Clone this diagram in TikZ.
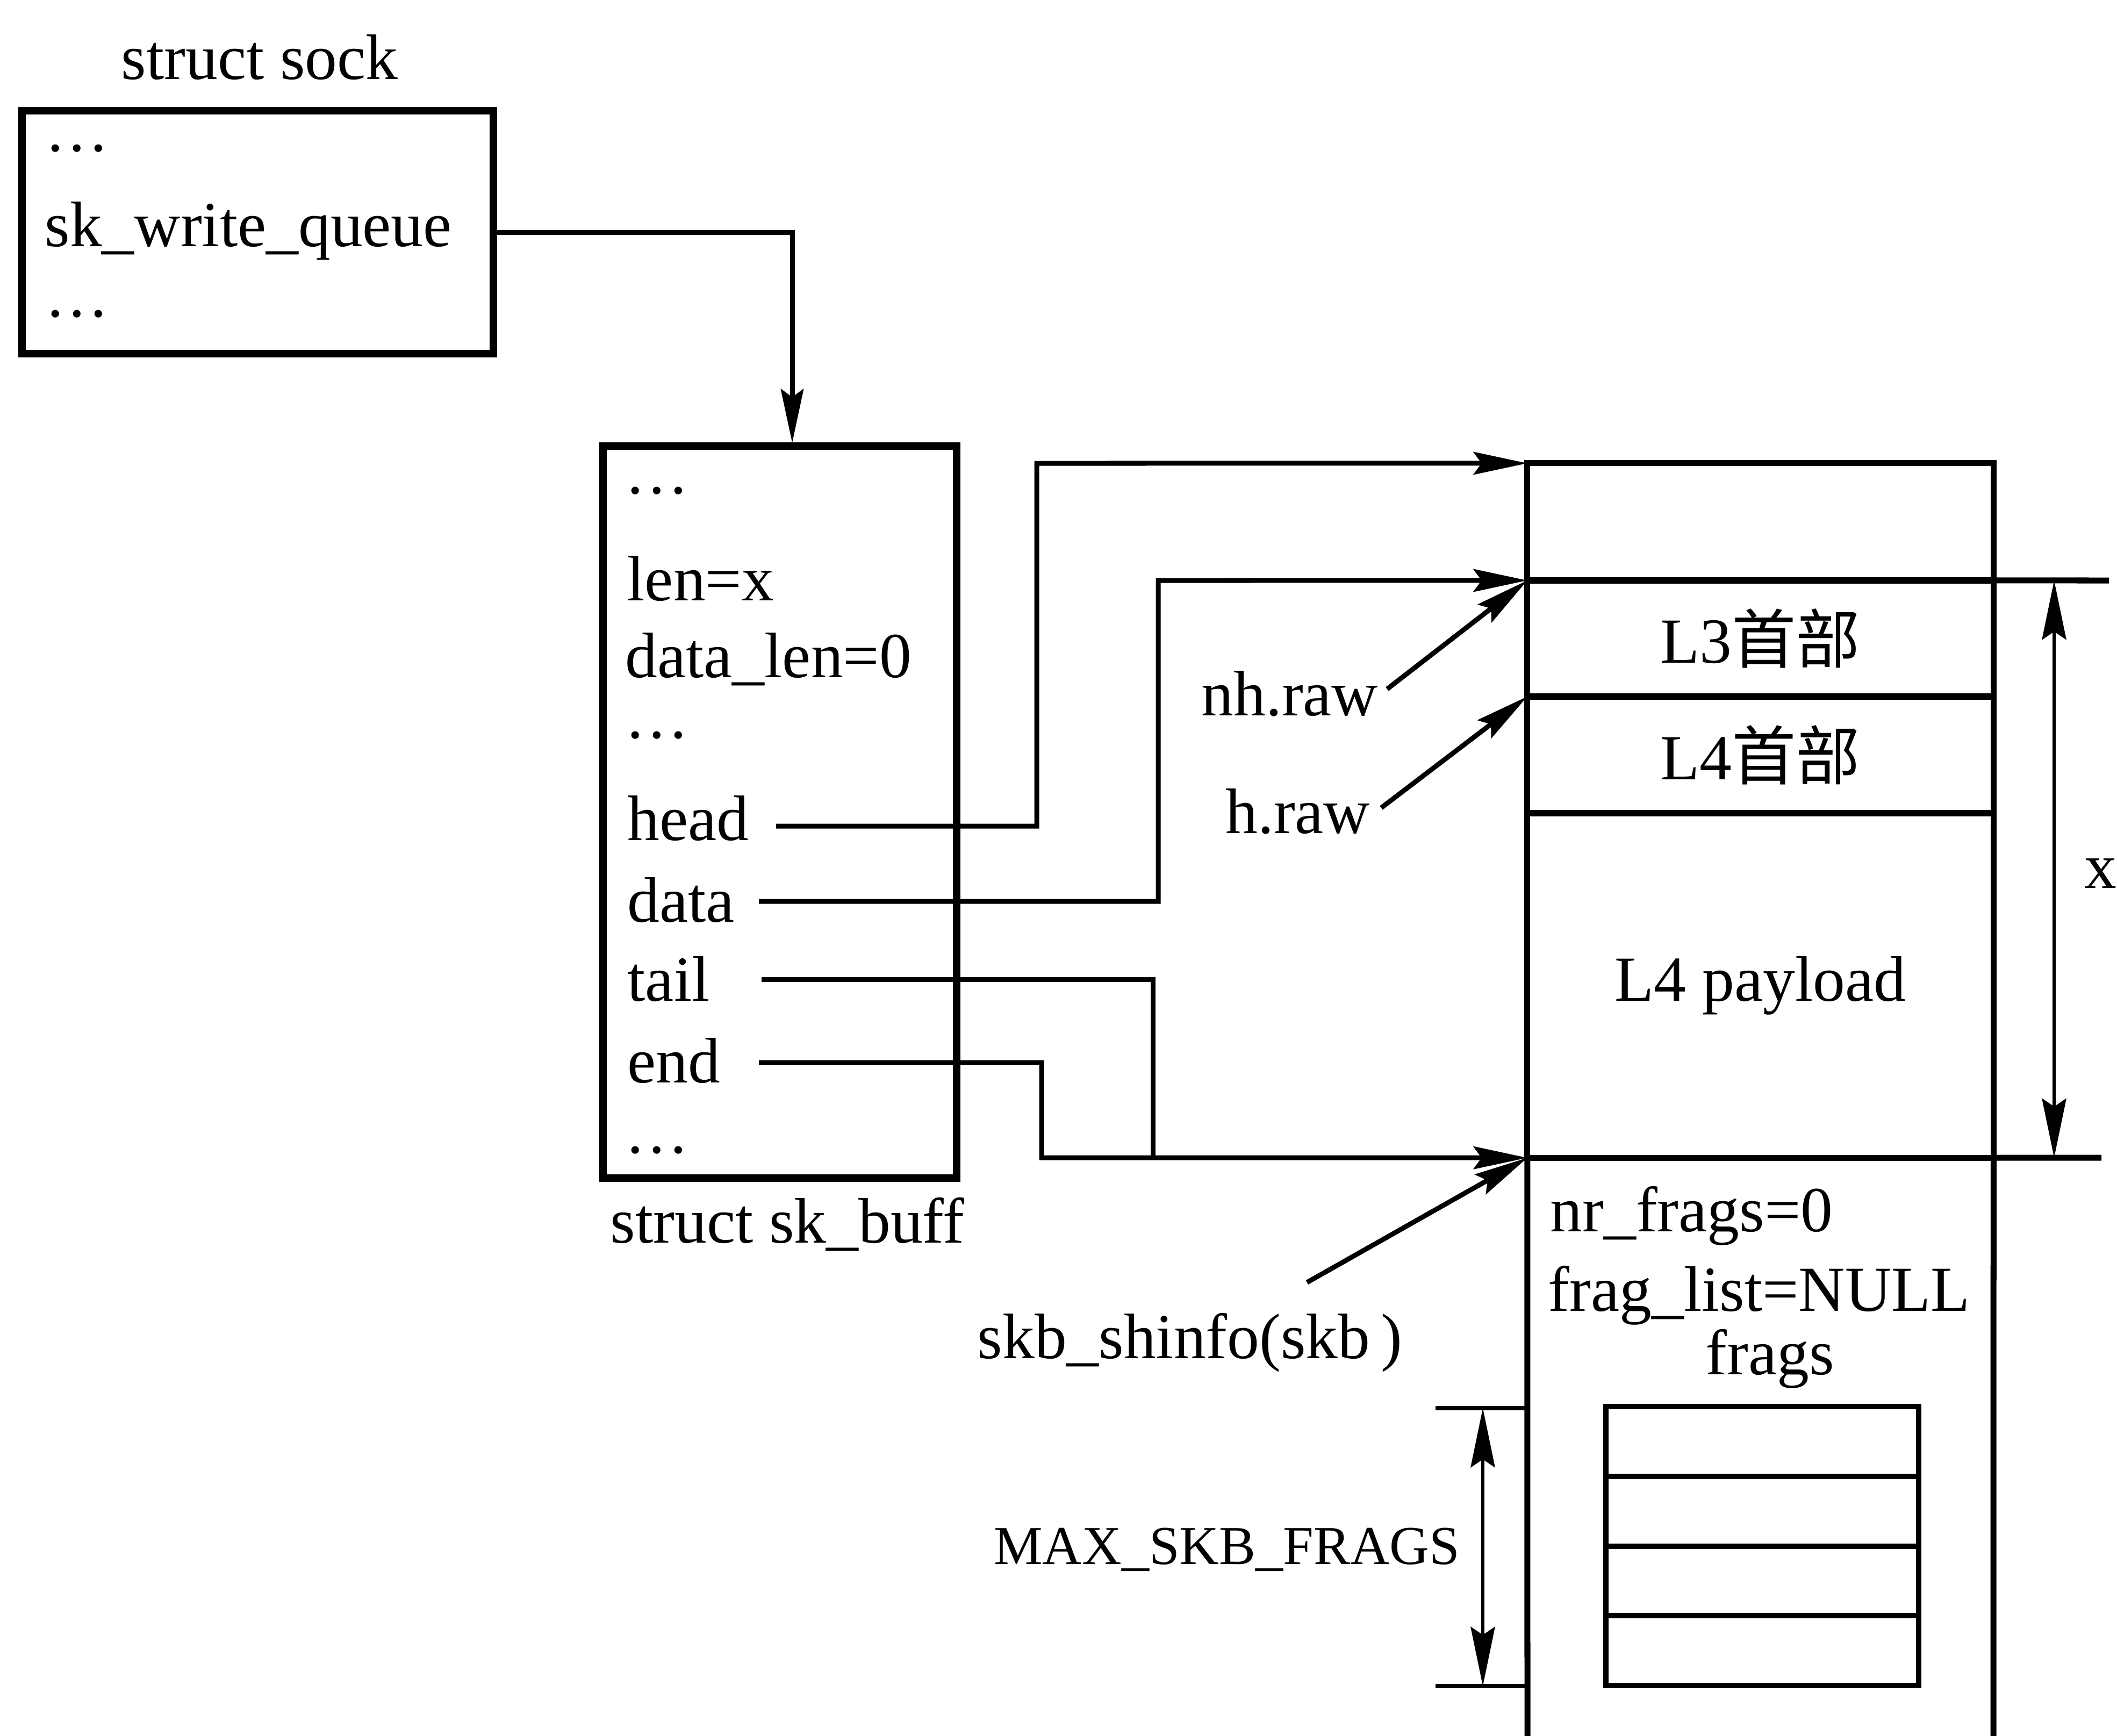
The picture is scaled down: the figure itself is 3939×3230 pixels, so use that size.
\documentclass[tikz,border=0pt]{standalone}
\usepackage{fontspec}
\setmainfont{Liberation Serif}
\newfontfamily\cjk{Noto Sans CJK SC}
\usetikzlibrary{arrows.meta}
\begin{document}
\begin{tikzpicture}[x=0.01cm,y=-0.01cm,
  txt/.style={font=\fontsize{34pt}{40pt}\selectfont, inner sep=0pt},
  smalltxt/.style={font=\fontsize{29pt}{34pt}\selectfont, inner sep=0pt},
  box/.style={draw, line width=0.14cm, inner sep=0pt, outer sep=0pt},
  cell/.style={draw, line width=0.11cm, inner sep=0pt, outer sep=0pt, minimum width=8.67cm, font=\fontsize{34pt}{40pt}\selectfont},
  fcell/.style={draw, line width=0.10cm, inner sep=0pt, outer sep=0pt, minimum width=5.82cm, minimum height=1.2975cm},
  blk/.style={line width=0.11cm},
  conn/.style={line width=0.09cm},
  arr/.style={line width=0.09cm, -{Stealth[length=1cm,width=0.42cm,inset=0.15cm]}},
  dim/.style={line width=0.065cm, {Stealth[length=1.1cm,width=0.45cm,inset=0.15cm]}-{Stealth[length=1.1cm,width=0.45cm,inset=0.15cm]}}]
\useasboundingbox (0,0) rectangle (3939,3230);

% struct sock
\node[txt, anchor=base] (sockt) at (483,147) {struct sock};
\node[box, minimum width=8.77cm, minimum height=4.51cm] (sock) at (479.5,432) {};
\node[txt, anchor=base west] (sd1) at (83,281) {…};
\node[txt, anchor=base west] (swq) at (83,458) {sk\_write\_queue};
\node[txt, anchor=base west] (sd2) at (83,589) {…};

% struct sk_buff
\node[box, minimum width=6.58cm, minimum height=13.62cm] (skb) at (1451,1511) {};
\node[txt, anchor=base west] (kd1) at (1162,918) {…};
\node[txt, anchor=base west] (klen) at (1166,1117) {len=x};
\node[txt, anchor=base west] (kdl) at (1163,1260) {data\_len=0};
\node[txt, anchor=base west] (kd2) at (1162,1373) {…};
\node[txt, anchor=base west] (khead) at (1167,1563) {head};
\node[txt, anchor=base west] (kdata) at (1167,1715) {data};
\node[txt, anchor=base west] (ktail) at (1167,1862) {tail};
\node[txt, anchor=base west] (kend) at (1167,2014) {end};
\node[txt, anchor=base west] (kd3) at (1162,2145) {…};
\node[txt, anchor=base west] (skbt) at (1135,2312) {struct sk\_buff};

% data block
\node[cell, minimum height=2.18cm] (c0) at (3275.5,971) {};
\node[cell, minimum height=2.16cm] (l3) at (3275.5,1188) {L3{\cjk 首部}};
\node[cell, minimum height=2.17cm] (l4) at (3275.5,1404.5) {L4{\cjk 首部}};
\node[cell, minimum height=6.41cm] (pay) at (3275.5,1833.5) {L4 payload};
\draw[blk] (pay.south west) -- (2842,3230);
\draw[blk] (pay.south east) -- (3709,3230);
\draw[blk] (l3.north east) -- (3924,1080);
\draw[blk] (pay.south east) -- (3910,2154);
\draw[dim] (3822,1080) -- (3822,2154);
\node[txt, anchor=base] (xl) at (3908,1652) {x};

% shared info
\node[txt, anchor=base west] (nrf) at (2884,2291) {nr\_frags=0};
\node[txt, anchor=base west] (fl) at (2880,2439) {frag\_list=NULL};
\node[txt, anchor=base] (fr) at (3293,2557) {frags};
\node[fcell] (f1) at (3279,2681.9) {};
\node[fcell] (f2) at (3279,2811.6) {};
\node[fcell] (f3) at (3279,2941.4) {};
\node[fcell] (f4) at (3279,3071.1) {};
\draw[line width=0.08cm] (2671,2620) -- (2842,2620);
\draw[line width=0.08cm] (2671,3137) -- (2842,3137);
\draw[dim] (2759,2620) -- (2759,3137);
\node[smalltxt, anchor=base east] (maxl) at (2717,2910) {MAX\_SKB\_FRAGS};

% labels with pointers
\node[txt, anchor=base east] (nh) at (2565,1331) {nh.raw};
\node[txt, anchor=base east] (hr) at (2550,1550) {h.raw};
\node[txt, anchor=base west] (shl) at (1818,2527) {skb\_shinfo(skb\,)};

% connectors
\coordinate (skbin) at (1474,824);
\draw[arr] (sock.east) -| (skbin);
\coordinate (hd) at (1444,1537);
\draw[arr] (hd) -- (1929,1537) -- (1929,862) -- (c0.north west);
\coordinate (dt) at (1412,1677);
\draw[arr] (dt) -- (2155,1677) -- (2155,1080) -- (l3.north west);
\coordinate (tl) at (1417,1822);
\coordinate (tj) at (2145,2154);
\draw[conn] (tl) -- (2145,1822) -- (tj);
\coordinate (ed) at (1412,1977);
\draw[arr] (ed) -- (1938,1977) -- (1938,2154) -- (pay.south west);
\coordinate (nhs) at (2581,1282);
\draw[arr] (nhs) -- (l3.north west);
\coordinate (hs) at (2570,1503);
\draw[arr] (hs) -- (l4.north west);
\coordinate (shs) at (2432,2386);
\draw[arr] (shs) -- (pay.south west);
\end{tikzpicture}
\end{document}
